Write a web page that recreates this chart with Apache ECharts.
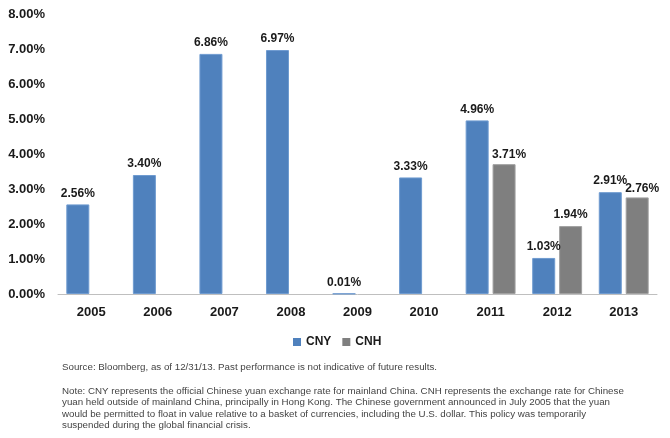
<!DOCTYPE html>
<html>
<head>
<meta charset="utf-8">
<script src="https://cdn.jsdelivr.net/npm/echarts@6/dist/echarts.min.js"></script>
<style>html,body{margin:0;padding:0;background:#fff;}#c{width:670px;height:438px;}</style>
</head>
<body>
<div id="c"></div>
<script>
var categories = ['2005','2006','2007','2008','2009','2010','2011','2012','2013'];
var cny = [2.56, 3.40, 6.86, 6.97, 0.01, 3.33, 4.96, 1.03, 2.91];
var cnh = [null, null, null, null, null, null, 3.71, 1.94, 2.76];
var yTicks = [0, 1, 2, 3, 4, 5, 6, 7, 8];
var sourceText = 'Source: Bloomberg, as of 12/31/13. Past performance is not indicative of future results.';
var noteLines = [
  'Note: CNY represents the official Chinese yuan exchange rate for mainland China. CNH represents the exchange rate for Chinese',
  'yuan held outside of mainland China, principally in Hong Kong. The Chinese government announced in July 2005 that the yuan',
  'would be permitted to float in value relative to a basket of currencies, including the U.S. dollar. This policy was temporarily',
  'suspended during the global financial crisis.'
];

var chart = echarts.init(document.getElementById('c'), null, {renderer: 'canvas'});
var font = '"Liberation Sans", Arial, sans-serif';
var labelStyle = {
  show: true, position: 'top', distance: 5,
  fontFamily: font, fontWeight: 'bold', fontSize: 12, color: '#1a1a1a',
  formatter: function (p) { return p.value == null ? '' : p.value.toFixed(2) + '%'; }
};
var graphics = [{
  type: 'text', left: 62, top: 362,
  style: {text: sourceText, fontFamily: font, fontSize: 9.75, fill: '#444'}
}];
noteLines.forEach(function (t, i) {
  graphics.push({
    type: 'text', left: 62, top: 386 + i * 11.6,
    style: {text: t, fontFamily: font, fontSize: 9.75, fill: '#444'}
  });
});

chart.setOption({
  animation: false,
  backgroundColor: '#fff',
  grid: {left: 58, right: 13, top: 14, bottom: 144, containLabel: false},
  legend: {
    left: 293, top: 336, padding: 0,
    itemWidth: 8, itemHeight: 8, itemGap: 11, icon: 'rect',
    itemStyle: {borderWidth: 0},
    textStyle: {fontFamily: font, fontWeight: 'bold', fontSize: 12, color: '#1a1a1a'},
    data: ['CNY', 'CNH']
  },
  xAxis: {
    type: 'category', data: categories,
    axisLine: {lineStyle: {color: '#bfbfbf', width: 1}},
    axisTick: {show: false},
    axisLabel: {fontFamily: font, fontWeight: 'bold', fontSize: 13, color: '#1a1a1a', margin: 12}
  },
  yAxis: {
    type: 'value', min: yTicks[0], max: yTicks[yTicks.length - 1], interval: 1,
    axisLine: {show: false}, axisTick: {show: false}, splitLine: {show: false},
    axisLabel: {fontFamily: font, fontWeight: 'bold', fontSize: 13, color: '#1a1a1a', margin: 13,
      formatter: function (v) { return v.toFixed(2) + '%'; }}
  },
  series: [
    {name: 'CNY', type: 'bar', data: cny, barWidth: 23, barGap: '17%',
      itemStyle: {color: '#4f81bd', borderColor: '#6f9bd0', borderWidth: 1}, label: labelStyle},
    {name: 'CNH', type: 'bar', data: cnh, barWidth: 23,
      itemStyle: {color: '#7f7f7f', borderColor: '#a0a0a0', borderWidth: 1}, label: labelStyle,
      labelLayout: function (p) {
        if (p.dataIndex === 6 || p.dataIndex === 8) { return {dx: 5, dy: 2}; }
        return {};
      }}
  ],
  graphic: graphics
});
</script>
</body>
</html>
